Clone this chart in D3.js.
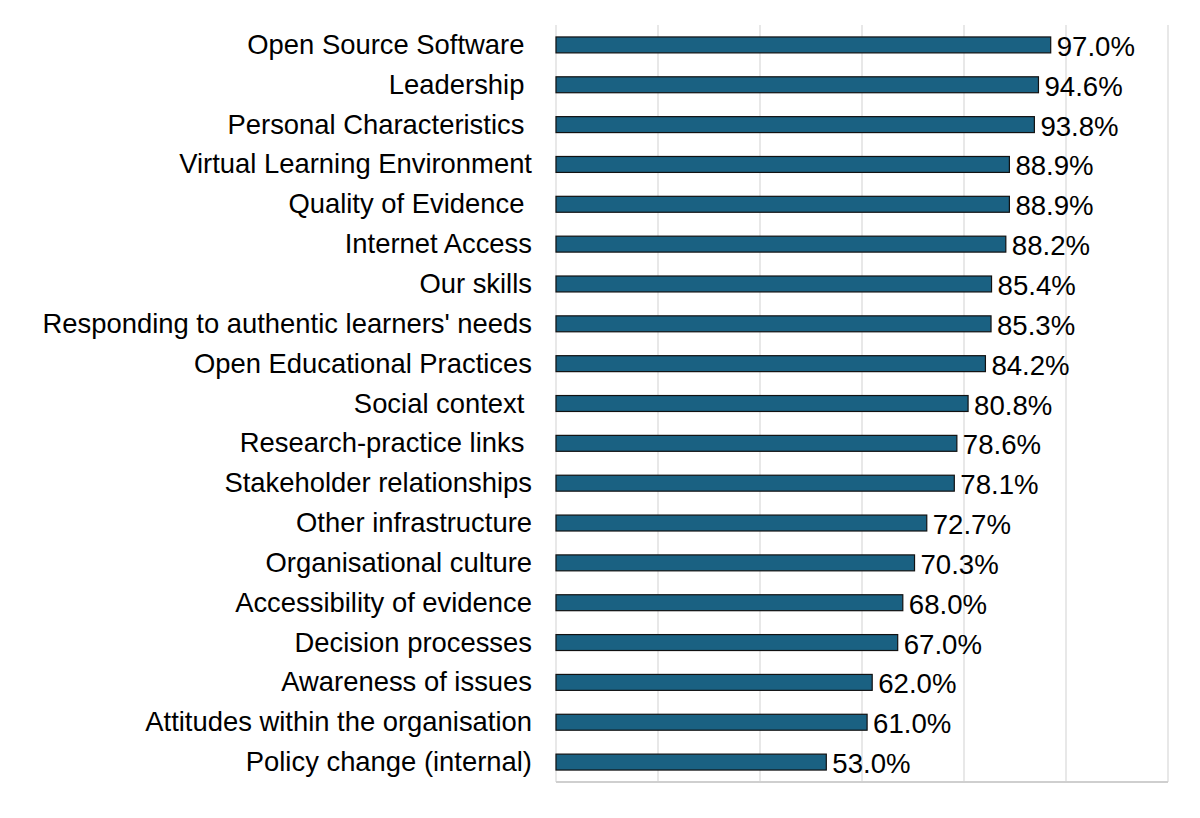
<!DOCTYPE html>
<html><head><meta charset="utf-8">
<script src="https://cdn.jsdelivr.net/npm/d3@7"></script>
<style>body{margin:0;background:#fff}svg{display:block}text{font-family:"Liberation Sans",Arial,sans-serif;white-space:pre}</style>
</head><body>
<svg id="c" width="1200" height="818"></svg>
<script>
const categories = ["Open Source Software ","Leadership ","Personal Characteristics ","Virtual Learning Environment","Quality of Evidence ","Internet Access","Our skills","Responding to authentic learners' needs","Open Educational Practices","Social context ","Research-practice links ","Stakeholder relationships","Other infrastructure","Organisational culture","Accessibility of evidence","Decision processes","Awareness of issues","Attitudes within the organisation","Policy change (internal)"];
const values = [97.0,94.6,93.8,88.9,88.9,88.2,85.4,85.3,84.2,80.8,78.6,78.1,72.7,70.3,68.0,67.0,62.0,61.0,53.0];
const xTicks = [0,20,40,60,80,100,120];

const svg = d3.select("#c");
const x = d3.scaleLinear().domain([0,120]).range([556,1168]);
const y = d3.scaleBand().domain(categories).range([25,782]).paddingInner(0.6).paddingOuter(0.3);

svg.append("g").selectAll("line").data(xTicks).join("line")
  .attr("x1",d=>x(d)).attr("x2",d=>x(d)).attr("y1",25).attr("y2",782)
  .attr("stroke","#d9d9d9").attr("stroke-width",1.2);
svg.append("line").attr("x1",x(0)).attr("x2",x(120)).attr("y1",782).attr("y2",782)
  .attr("stroke","#cfcfcf").attr("stroke-width",2);

svg.append("g").selectAll("rect").data(values).join("rect")
  .attr("x",x(0)).attr("y",(d,i)=>y(categories[i]))
  .attr("width",d=>x(d)-x(0)).attr("height",y.bandwidth())
  .attr("fill","#1a6182").attr("stroke","#111").attr("stroke-width",1.2);

svg.append("g").selectAll("text").data(categories).join("text")
  .attr("x",532).attr("y",d=>y(d)+y.bandwidth()/2).attr("dy","0.33em")
  .attr("text-anchor","end").attr("font-size",27.4).attr("fill","#000").text(d=>d);

svg.append("g").selectAll("text").data(values).join("text")
  .attr("x",d=>x(d)+6).attr("y",(d,i)=>y(categories[i])+y.bandwidth()/2).attr("dy","0.4em")
  .attr("font-size",27.6).attr("fill","#000").text(d=>d.toFixed(1)+"%");
</script>
</body></html>
